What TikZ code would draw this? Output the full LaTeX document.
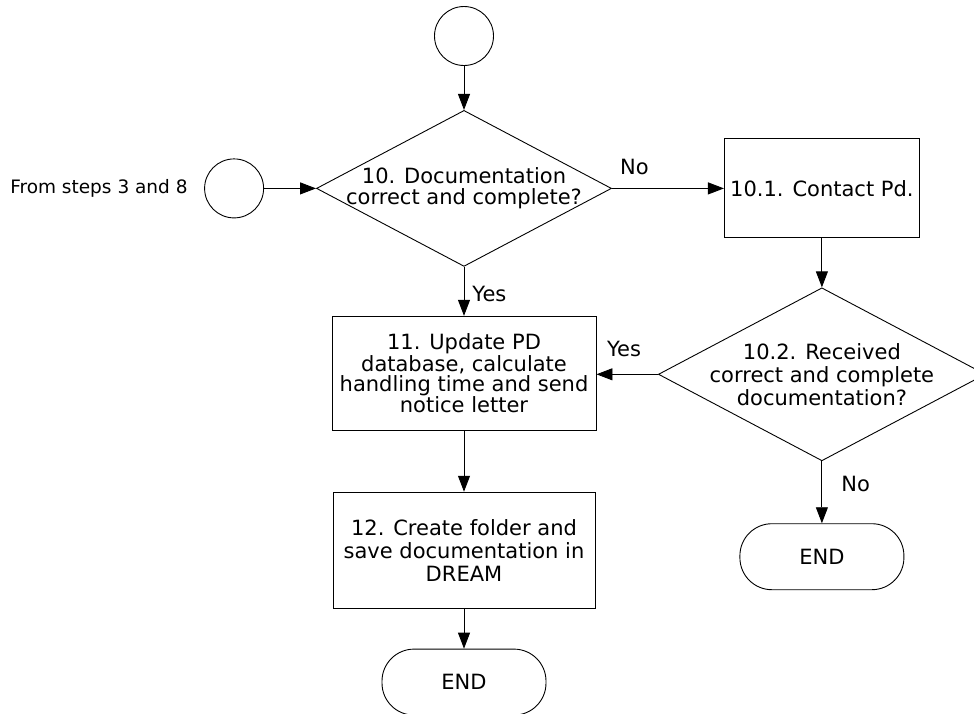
\documentclass[tikz,border=0pt]{standalone}
\usepackage{fontspec}
\setmainfont{DejaVu Sans}
\usetikzlibrary{shapes.geometric, arrows.meta, positioning}

\begin{document}
\begin{tikzpicture}[
    x=1pt, y=1pt,
    every node/.style={font=\fontsize{21}{23}\selectfont},
    connector/.style={draw, circle, minimum size=59pt, inner sep=0pt, line width=0.9pt},
    process/.style={draw, rectangle, align=center, inner sep=0pt, line width=0.9pt},
    decision/.style={draw, diamond, align=center, aspect=1.9, inner sep=-20pt, line width=0.9pt},
    terminal/.style={draw, rectangle, rounded corners=32pt, minimum width=164pt, minimum height=66pt, line width=0.9pt},
    flow/.style={-{Triangle[length=16pt, width=12pt]}, line width=0.9pt},
    flowlabel/.style={inner sep=2pt},
]
\useasboundingbox (0,0) rectangle (974,-713);

\node[connector] (start) at (464,-36) {};
\node[decision, font=\fontsize{21}{21.5}\selectfont, minimum width=295pt, minimum height=156pt, below=44pt of start] (check) {10. Documentation\\correct and complete?};
\node[connector, left=52pt of check] (entry) {};
\node[font=\fontsize{18.5}{22}\selectfont, left=13pt of entry] (from) {From steps 3 and 8};
\node[process, minimum width=195pt, minimum height=99pt, right=112pt of check] (contact) {10.1. Contact Pd.};
\node[decision, minimum width=327pt, minimum height=173pt, below=49pt of contact] (received) {10.2. Received\\correct and complete\\documentation?};
\node[terminal, below=62pt of received] (endB) {END};
\node[process, font=\fontsize{21}{20}\selectfont, minimum width=264pt, minimum height=114pt, below=49pt of check] (update) {11. Update PD\\database, calculate\\handling time and send\\notice letter};
\node[process, minimum width=262pt, minimum height=116pt, below=61pt of update] (folder) {12. Create folder and\\save documentation in\\DREAM};
\node[terminal, below=40pt of folder] (endA) {END};

% Arrows
\draw[flow] (start) -- (check);
\draw[flow] (entry) -- (check);
\draw[flow] (check) -- node[flowlabel, above=11pt, pos=0.2] {No} (contact);
\draw[flow] (check) -- node[flowlabel, right=6pt, pos=0.55] {Yes} (update);
\draw[flow] (contact) -- (received);
\draw[flow] (received.west) -- node[flowlabel, above=15pt, pos=0.55] {Yes} (received.west -| update.east);
\draw[flow] (received) -- node[flowlabel, right=17pt, pos=0.37] {No} (endB);
\draw[flow] (update) -- (folder);
\draw[flow] (folder) -- (endA);

\end{tikzpicture}
\end{document}
